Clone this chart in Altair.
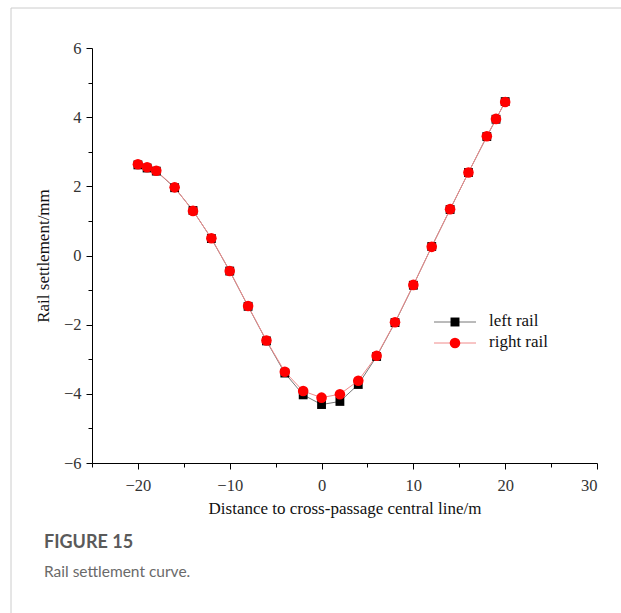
import altair as alt
import pandas as pd

# ---- data ----
distance = [-20, -19, -18, -16, -14, -12, -10, -8, -6, -4, -2, 0, 2, 4, 6, 8, 10, 12, 14, 16, 18, 19, 20]
right_rail = [2.64, 2.55, 2.45, 1.97, 1.29, 0.50, -0.45, -1.46, -2.46, -3.36, -3.92, -4.11, -4.01, -3.62,
              -2.90, -1.93, -0.85, 0.25, 1.34, 2.40, 3.45, 3.95, 4.44]
left_rail = [2.62, 2.53, 2.44, 1.96, 1.30, 0.49, -0.45, -1.47, -2.47, -3.40, -4.03, -4.31, -4.22, -3.73,
             -2.92, -1.94, -0.86, 0.26, 1.33, 2.40, 3.44, 3.94, 4.45]
x_ticks = list(range(-25, 31, 5))
y_ticks = list(range(-6, 7, 1))
series_names = ["left rail", "right rail"]
caption_title = "FIGURE 15"
caption_text = "Rail settlement curve."

df_left = pd.DataFrame({"x": distance, "y": left_rail})
df_right = pd.DataFrame({"x": distance, "y": right_rail})

SERIF = "Liberation Serif"

x_scale = alt.Scale(domain=[-25, 30], nice=False, zero=False)
y_scale = alt.Scale(domain=[-6, 6], nice=False, zero=False)

x_axis = alt.Axis(
    values=x_ticks,
    labelExpr="datum.value % 10 === 0 ? datum.label : ''",
    tickSize={"condition": {"test": "datum.value % 10 === 0", "value": 6}, "value": 4},
    title="Distance to cross-passage central line/m",
    grid=False, domainColor="black", tickColor="black",
    labelFont=SERIF, labelFontSize=16.5, labelColor="#333", labelPadding=8,
    titleFont=SERIF, titleFontSize=17, titleFontWeight="normal", titleColor="#111", titlePadding=7,
)
y_axis = alt.Axis(
    values=y_ticks,
    labelExpr="datum.value % 2 === 0 ? datum.label : ''",
    tickSize={"condition": {"test": "datum.value % 2 === 0", "value": 6}, "value": 4},
    title="Rail settlement/mm",
    grid=False, domainColor="black", tickColor="black",
    labelFont=SERIF, labelFontSize=16.5, labelColor="#333", labelPadding=5,
    titleFont=SERIF, titleFontSize=17, titleFontWeight="normal", titleColor="#111", titlePadding=11,
)

X = alt.X("x:Q", scale=x_scale, axis=x_axis)
Y = alt.Y("y:Q", scale=y_scale, axis=y_axis)

left_line = alt.Chart(df_left).mark_line(color="#777", strokeWidth=1).encode(x=X, y=Y)
left_pts = alt.Chart(df_left).mark_square(color="black", size=78, opacity=1).encode(x=X, y=Y)
right_line = alt.Chart(df_right).mark_line(color="#f08a8a", strokeWidth=1).encode(x=X, y=Y)
right_pts = alt.Chart(df_right).mark_circle(color="#ff0000", size=112, opacity=1).encode(x=X, y=Y)

# ---- manual legend (pixel positions inside plot area) ----
leg_df = pd.DataFrame({"name": series_names})
leg_layers = []
row_y = [274, 295]
line_cols = ["#777", "#f08a8a"]
for i, name in enumerate(series_names):
    d = leg_df[leg_df["name"] == name]
    leg_layers.append(alt.Chart(d).mark_rule(color=line_cols[i], strokeWidth=1).encode(
        x=alt.value(342), x2=alt.value(384), y=alt.value(row_y[i])))
    if i == 0:
        leg_layers.append(alt.Chart(d).mark_square(color="black", size=80, opacity=1).encode(
            x=alt.value(363), y=alt.value(row_y[i])))
    else:
        leg_layers.append(alt.Chart(d).mark_circle(color="#ff0000", size=112, opacity=1).encode(
            x=alt.value(363), y=alt.value(row_y[i])))
    leg_layers.append(alt.Chart(d).mark_text(align="left", baseline="middle", font=SERIF, fontSize=17, color="#111").encode(
        x=alt.value(397), y=alt.value(row_y[i] - 1), text="name:N"))

# ---- frame and caption ----
cap_df = pd.DataFrame({"t": [caption_title], "c": [caption_text]})
frame_v = alt.Chart(cap_df).mark_rule(color="#cccccc", strokeWidth=1).encode(
    x=alt.value(-81), y=alt.value(-40), y2=alt.value(570))
frame_h = alt.Chart(cap_df).mark_rule(color="#cccccc", strokeWidth=1).encode(
    x=alt.value(-81), x2=alt.value(530), y=alt.value(-40))
cap1 = alt.Chart(cap_df).mark_text(align="left", baseline="middle", font="Lato", fontSize=18, fontWeight="bold", color="#5a5a5a").encode(
    x=alt.value(-48), y=alt.value(495), text="t:N")
cap2 = alt.Chart(cap_df).mark_text(align="left", baseline="middle", font="Lato", fontSize=15.5, color="#6a6a6a").encode(
    x=alt.value(-48), y=alt.value(524), text="c:N")

chart = alt.layer(
    left_line, right_line, left_pts, right_pts, *leg_layers, frame_v, frame_h, cap1, cap2
).properties(
    width=505, height=415,
    autosize=alt.AutoSizeParams(type="none"),
    padding={"left": 92, "top": 48, "right": 24, "bottom": 150},
    background="white",
).configure_view(stroke=None)

chart.save("out.html", embed_options={"renderer": "svg", "actions": False})
